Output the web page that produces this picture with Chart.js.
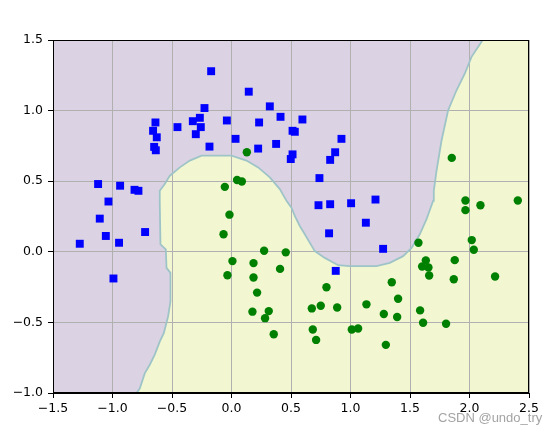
<!DOCTYPE html>
<html lang="en">
<head>
    <meta charset="UTF-8">
    <title>Moons decision boundary</title>
    <script src="https://cdn.jsdelivr.net/npm/chart.js"></script>
    <style>
        body { margin: 0; background: white; }
    </style>
</head>
<body>
    <canvas id="moonChart" width="557" height="435"></canvas>

    <script>
        // tick positions
        const xTicks = [-1.5, -1.0, -0.5, 0.0, 0.5, 1.0, 1.5, 2.0, 2.5];
        const yTicks = [-1.0, -0.5, 0.0, 0.5, 1.0, 1.5];

        // class 0 (blue squares)
        const blueX = [-0.171, 0.145, 0.322, 0.412, -0.227, -0.266, -0.325, -0.258, -0.300, -0.454,
                       -0.639, -0.659, -0.628, -0.650, -0.636, -0.039, 0.232, 0.034, -0.185, 0.224,
                       0.375, 0.596, 0.513, 0.532, 0.513, 0.498, 0.924, 0.871, 0.829, 0.739,
                       0.731, 0.829, 1.005, 1.210, 1.129, 0.820, 1.274, 0.876, -1.121, -0.936,
                       -0.815, -0.782, -1.034, -1.107, -0.726, -1.275, -1.056, -0.945, -0.992];
        const blueY = [1.279, 1.134, 1.030, 0.956, 1.018, 0.949, 0.925, 0.883, 0.833, 0.883,
                       0.916, 0.857, 0.811, 0.743, 0.719, 0.930, 0.916, 0.800, 0.745, 0.731,
                       0.764, 0.937, 0.857, 0.850, 0.690, 0.657, 0.800, 0.705, 0.651, 0.522,
                       0.330, 0.337, 0.344, 0.370, 0.206, 0.131, 0.021, -0.135, 0.480, 0.468,
                       0.439, 0.432, 0.356, 0.235, 0.140, 0.057, 0.112, 0.064, -0.189];

        // class 1 (green circles)
        const greenX = [0.129, 0.047, 0.087, -0.056, -0.017, -0.067, 0.274, 0.456, 0.008, 0.185,
                        0.408, -0.034, 0.185, 0.215, 0.176, 0.313, 0.282, 0.355, 0.798, 0.675,
                        0.750, 0.888, 0.683, 0.711, 1.134, 1.011, 1.064, 1.280, 1.297, 1.347,
                        1.400, 1.392, 1.571, 1.633, 1.602, 1.655, 1.661, 1.585, 1.610, 1.803,
                        1.876, 1.868, 2.019, 2.036, 2.215, 1.851, 1.966, 1.966, 2.092, 2.406];
        const greenY = [0.705, 0.508, 0.498, 0.460, 0.263, 0.124, 0.007, -0.004, -0.066, -0.080,
                        -0.121, -0.166, -0.182, -0.289, -0.424, -0.420, -0.470, -0.584, -0.251, -0.401,
                        -0.382, -0.394, -0.550, -0.624, -0.372, -0.550, -0.543, -0.441, -0.659, -0.216,
                        -0.332, -0.462, 0.064, -0.061, -0.104, -0.111, -0.168, -0.415, -0.503, -0.510,
                        -0.059, -0.194, 0.083, 0.014, -0.175, 0.665, 0.363, 0.295, 0.330, 0.363];

        // decision boundary, traced from bottom to top
        const boundaryX = [-0.798, -0.771, -0.729, -0.687, -0.645, -0.603, -0.569, -0.533, -0.513, -0.513,
                           -0.546, -0.552, -0.597, -0.603, -0.603, -0.561, -0.518, -0.434, -0.350, -0.252,
                           0.000, 0.126, 0.224, 0.322, 0.406, 0.462, 0.504, 0.532, 0.574, 0.616,
                           0.700, 0.784, 0.896, 0.994, 1.218, 1.330, 1.442, 1.513, 1.582, 1.639,
                           1.694, 1.700, 1.723, 1.765, 1.820, 1.891, 1.961, 2.017, 2.101, 2.110];
        const boundaryY = [-1.000, -0.968, -0.861, -0.800, -0.728, -0.636, -0.576, -0.458, -0.351, -0.149,
                           -0.114, 0.017, 0.053, 0.361, 0.432, 0.480, 0.539, 0.598, 0.646, 0.681,
                           0.681, 0.646, 0.598, 0.527, 0.444, 0.361, 0.313, 0.254, 0.183, 0.124,
                           0.005, -0.043, -0.095, -0.102, -0.102, -0.078, -0.031, 0.028, 0.124, 0.231,
                           0.361, 0.432, 0.574, 0.788, 1.001, 1.144, 1.263, 1.381, 1.488, 1.500];

        const zip = (xs, ys) => xs.map((x, i) => ({ x: x, y: ys[i] }));

        // paints the two class regions under the grid
        const regionPlugin = {
            id: 'regions',
            beforeDraw(chart) {
                const { ctx, chartArea: a, scales: { x, y } } = chart;
                ctx.save();
                ctx.fillStyle = '#fff';
                ctx.fillRect(0, 0, chart.width, chart.height);
                ctx.beginPath();
                ctx.rect(a.left, a.top, a.right - a.left, a.bottom - a.top);
                ctx.clip();
                ctx.fillStyle = '#f3f7d1';
                ctx.fillRect(a.left, a.top, a.right - a.left, a.bottom - a.top);
                ctx.beginPath();
                boundaryX.forEach((bx, i) => {
                    const px = x.getPixelForValue(bx), py = y.getPixelForValue(boundaryY[i]);
                    if (i === 0) ctx.moveTo(px, py); else ctx.lineTo(px, py);
                });
                ctx.lineTo(x.getPixelForValue(2.11), a.top - 5);
                ctx.lineTo(a.left - 5, a.top - 5);
                ctx.lineTo(a.left - 5, a.bottom + 5);
                ctx.lineTo(x.getPixelForValue(boundaryX[0]), a.bottom + 5);
                ctx.closePath();
                ctx.fillStyle = '#dbd3e4';
                ctx.fill();
                ctx.restore();
            },
            afterDraw(chart) {
                const { ctx, chartArea: a } = chart;
                ctx.save();
                ctx.strokeStyle = '#000';
                ctx.lineWidth = 1;
                ctx.strokeRect(a.left + 0.5, a.top + 0.5, a.right - a.left - 1, a.bottom - a.top - 1);
                ctx.font = '13px "Liberation Sans", Arial, sans-serif';
                ctx.fillStyle = 'rgba(140,140,140,0.8)';
                ctx.textBaseline = 'middle';
                ctx.textAlign = 'left';
                ctx.fillText('CSDN @undo_try', 438, 418);
                ctx.restore();
            }
        };

        const fmt = v => v.toFixed(1).replace('-', '\u2212');

        new Chart(document.getElementById('moonChart'), {
            type: 'scatter',
            data: {
                datasets: [
                    {
                        label: 'class 0',
                        data: zip(blueX, blueY),
                        pointStyle: 'rect',
                        pointRadius: 5.6,
                        borderWidth: 0,
                        backgroundColor: '#0000ff',
                        borderColor: '#0000ff'
                    },
                    {
                        label: 'class 1',
                        data: zip(greenX, greenY),
                        pointStyle: 'circle',
                        pointRadius: 4.2,
                        borderWidth: 0,
                        backgroundColor: '#008000',
                        borderColor: '#008000'
                    },
                    {
                        label: 'boundary',
                        data: zip(boundaryX, boundaryY),
                        showLine: true,
                        pointRadius: 0,
                        borderColor: '#9fc4c8',
                        borderWidth: 1.8,
                        fill: false
                    }
                ]
            },
            options: {
                responsive: false,
                animation: false,
                events: [],
                layout: { padding: { top: 40, right: 28, bottom: 0, left: 0 } },
                plugins: { legend: { display: false }, tooltip: { enabled: false } },
                scales: {
                    x: {
                        type: 'linear',
                        min: -1.5,
                        max: 2.5,
                        afterBuildTicks: s => { s.ticks = xTicks.map(v => ({ value: v })); },
                        afterFit: s => { s.height = 42; },
                        grid: { color: '#b0b0b0', tickColor: '#000', tickLength: 5 },
                        border: { color: '#000', width: 1 },
                        ticks: {
                            color: '#000',
                            padding: 3,
                            maxRotation: 0,
                            font: { family: 'DejaVu Sans', size: 12.5 },
                            callback: v => fmt(v)
                        }
                    },
                    y: {
                        type: 'linear',
                        min: -1.0,
                        max: 1.5,
                        afterBuildTicks: s => { s.ticks = yTicks.map(v => ({ value: v })); },
                        afterFit: s => { s.width = 53; },
                        grid: { color: '#b0b0b0', tickColor: '#000', tickLength: 5 },
                        border: { color: '#000', width: 1 },
                        ticks: {
                            color: '#000',
                            padding: 5,
                            font: { family: 'DejaVu Sans', size: 12.5 },
                            callback: v => fmt(v)
                        }
                    }
                }
            },
            plugins: [regionPlugin]
        });
    </script>
</body>
</html>
